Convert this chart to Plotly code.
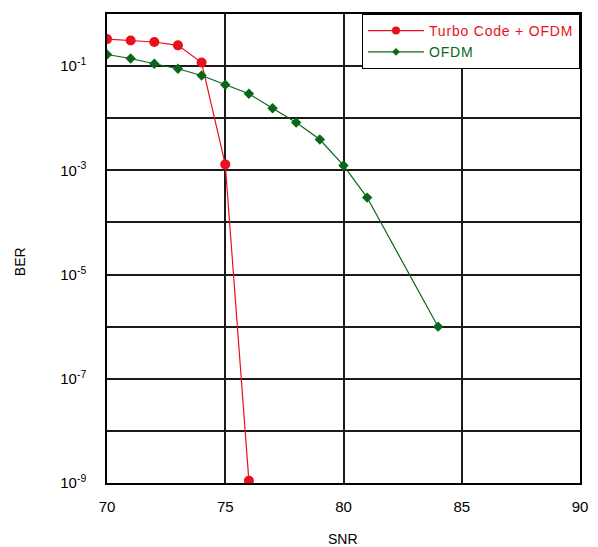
import plotly.graph_objects as go

snr_turbo = [70, 71, 72, 73, 74, 75, 76]
ber_turbo = [0.33, 0.31, 0.29, 0.25, 0.117, 1.3e-3, 1.1e-9]

snr_ofdm = [70, 71, 72, 73, 74, 75, 76, 77, 78, 79, 80, 81, 84]
ber_ofdm = [0.167, 0.14, 0.111, 0.089, 0.066, 0.044, 0.0295, 0.0155, 0.0083, 0.0039, 1.24e-3, 3.0e-4, 1.0e-6]

x_ticks = [70, 75, 80, 85, 90]
y_tickvals = [1e0, 1e-1, 1e-2, 1e-3, 1e-4, 1e-5, 1e-6, 1e-7, 1e-8, 1e-9]
y_ticktext = ["", "10<sup>-1</sup>", "", "10<sup>-3</sup>", "", "10<sup>-5</sup>", "", "10<sup>-7</sup>", "", "10<sup>-9</sup>"]

RED = "#e8101a"
GREEN = "#0a6618"
FONT = "Liberation Sans, Arial, sans-serif"

fig = go.Figure()
fig.add_trace(go.Scatter(
    x=snr_turbo, y=ber_turbo, mode="lines+markers", showlegend=False,
    line=dict(color=RED, width=1.2),
    marker=dict(symbol="circle", size=10, color=RED),
))
fig.add_trace(go.Scatter(
    x=snr_ofdm, y=ber_ofdm, mode="lines+markers", showlegend=False,
    line=dict(color=GREEN, width=1.2),
    marker=dict(symbol="diamond", size=8, color=GREEN),
))
# legend-only entries with smaller symbols
fig.add_trace(go.Scatter(
    x=[None], y=[None], mode="lines+markers",
    name=f"<span style='color:{RED};letter-spacing:0.8px'>Turbo Code + OFDM</span>",
    line=dict(color=RED, width=1.2),
    marker=dict(symbol="circle", size=8, color=RED),
))
fig.add_trace(go.Scatter(
    x=[None], y=[None], mode="lines+markers",
    name=f"<span style='color:{GREEN};letter-spacing:0.8px'>OFDM</span>",
    line=dict(color=GREEN, width=1.2),
    marker=dict(symbol="diamond", size=6, color=GREEN),
))

axis_common = dict(
    showline=True, linecolor="black", linewidth=1.5, mirror=True,
    showgrid=True, gridcolor="#1a1a1a", gridwidth=1.5,
    zeroline=False, ticks="",
    tickfont=dict(family=FONT, size=15, color="black"),
)

fig.update_xaxes(range=[70, 90], tickvals=x_ticks, ticklabelstandoff=9, **axis_common)
fig.update_yaxes(type="log", range=[-9, 0], tickvals=y_tickvals, ticktext=y_ticktext,
                 ticklabelstandoff=16, **axis_common)

fig.update_layout(
    width=590, height=539,
    margin=dict(l=99, r=18, t=4, b=64),
    paper_bgcolor="white", plot_bgcolor="white",
    font=dict(family=FONT, size=14, color="black"),
    showlegend=True,
    legend=dict(x=1, y=1, xanchor="right", yanchor="top",
                bgcolor="white", bordercolor="black", borderwidth=1,
                font=dict(family=FONT, size=14), itemwidth=56,
                tracegroupgap=0),
    annotations=[
        dict(text="BER", xref="paper", yref="paper", x=-0.184, y=0.473,
             textangle=-90, showarrow=False, font=dict(family=FONT, size=14, color="black"),
             xanchor="center", yanchor="middle"),
        dict(text="SNR", xref="paper", yref="paper", x=0.499, y=-0.119,
             showarrow=False, font=dict(family=FONT, size=14, color="black"),
             xanchor="center", yanchor="middle"),
    ],
)

fig.write_html("out.html")
